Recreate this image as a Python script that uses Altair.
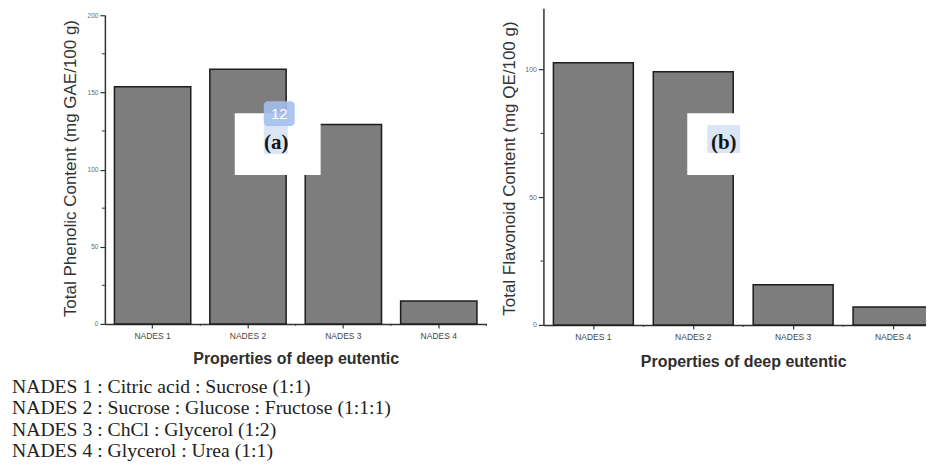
import altair as alt
import pandas as pd

# ---------------- data ----------------
categories = ["NADES 1", "NADES 2", "NADES 3", "NADES 4"]
phenolic = [153.6, 165.0, 129.2, 14.9]
flavonoid = [102.7, 99.1, 15.7, 7.0]
phenolic_ticks = [0, 50, 100, 150, 200]
phenolic_minor = [25, 75, 125, 175]
flavonoid_ticks = [0, 50, 100]
flavonoid_minor = [25, 75]
legend_lines = [
    "NADES 1 : Citric acid : Sucrose (1:1)",
    "NADES 2 : Sucrose : Glucose : Fructose (1:1:1)",
    "NADES 3 : ChCl : Glycerol (1:2)",
    "NADES 4 : Glycerol : Urea (1:1)",
]
y_title_a = "Total Phenolic Content (mg GAE/100 g)"
y_title_b = "Total Flavonoid Content (mg QE/100 g)"
x_title = "Properties of deep eutentic"

BAR_FILL = "#7d7d7d"
AXIS_COL = "#333333"
SANS = "Liberation Sans"
SERIF = "Liberation Serif"


def panel(values, ticks, minor, y_title, domain, rng, width, height,
          title_y, label_size):
    df = pd.DataFrame({"cat": categories, "val": values})
    xs = alt.Scale(domain=categories, paddingInner=0.2, paddingOuter=0.1)
    ys = alt.Scale(domain=domain, range=rng, nice=False, zero=True)
    base = alt.Chart(df)
    bars = base.mark_bar(color=BAR_FILL, stroke="#1c1c1c", strokeWidth=1.5).encode(
        x=alt.X("cat:N", scale=xs, sort=categories, title=x_title,
                axis=alt.Axis(labelAngle=0, labelFont=SANS, labelFontSize=8.5,
                              labelColor="#444", labelPadding=4,
                              tickSize=4, tickColor=AXIS_COL, tickWidth=1.2,
                              domainColor=AXIS_COL, domainWidth=1.5,
                              titleFont=SANS, titleFontSize=16,
                              titleFontWeight="bold", titleColor="#2e2e2e",
                              titleBaseline="middle", titleY=title_y)),
        y=alt.Y("val:Q", scale=ys, title=y_title,
                axis=alt.Axis(values=ticks, labelFont=SANS,
                              labelFontSize=label_size, labelColor="#6a6a6a",
                              labelPadding=2, tickSize=5, tickColor=AXIS_COL,
                              tickWidth=1.2, domainColor=AXIS_COL,
                              domainWidth=1.5, grid=False,
                              titleFont=SANS, titleFontSize=17,
                              titleFontWeight="normal", titleColor="#333",
                              titleBaseline="middle", titleAngle=-90,
                              titleX=-34, titleY=160)),
    )
    minor_df = pd.DataFrame({"m": minor})
    minor_ticks = alt.Chart(minor_df).mark_rule(color=AXIS_COL, strokeWidth=1).encode(
        y=alt.Y("m:Q", scale=ys),
        x=alt.value(-3), x2=alt.value(0),
    )
    step = width / 4.0
    xminor = base.mark_rule(color=AXIS_COL, strokeWidth=1, xOffset=step * 0.1).encode(
        x=alt.X("cat:N", scale=xs, sort=categories, bandPosition=1),
        y=alt.value(height), y2=alt.value(height + 2),
    )
    return bars, minor_ticks, xminor


# ---------------- panel (a) ----------------
W1, H1 = 382, 316
bars_a, minor_a, xminor_a = panel(phenolic, phenolic_ticks, phenolic_minor,
                                  y_title_a, [0, 200], [316, 7], W1, H1, 35, 6.5)

ann = alt.Chart(pd.DataFrame({"k": [0]}))
white_a = ann.mark_rect(color="white").encode(
    x=alt.value(130), x2=alt.value(216), y=alt.value(105), y2=alt.value(167))
hl_a = ann.mark_rect(color="#dae6f6").encode(
    x=alt.value(159), x2=alt.value(183), y=alt.value(116), y2=alt.value(146))
lab_a = ann.mark_text(font=SERIF, fontSize=21, fontWeight="bold", color="#151515",
                      align="center", baseline="alphabetic").encode(
    x=alt.value(171.5), y=alt.value(141), text=alt.value("(a)"))
badge = ann.mark_rect(color="#a3bfec", opacity=0.9, cornerRadius=4).encode(
    x=alt.value(159), x2=alt.value(190), y=alt.value(93), y2=alt.value(118))
badge_txt = ann.mark_text(font=SANS, fontSize=15, color="white",
                          align="center", baseline="middle").encode(
    x=alt.value(174.5), y=alt.value(106), text=alt.value("12"))
legend_txt = ann.mark_text(font=SERIF, fontSize=19.7, color="#1e1e1e",
                           align="left", baseline="alphabetic",
                           lineHeight=21.5).encode(
    x=alt.value(-93), y=alt.value(385), text=alt.value(legend_lines))

left = alt.layer(bars_a, minor_a, xminor_a, white_a, hl_a, lab_a, badge,
                 badge_txt, legend_txt).properties(width=W1, height=H1)

# ---------------- panel (b) ----------------
W2, H2 = 400, 317
bars_b, minor_b, xminor_b = panel(flavonoid, flavonoid_ticks, flavonoid_minor,
                                  y_title_b, [0, 124], [317, 0], W2, H2, 37, 7)
white_b = ann.mark_rect(color="white").encode(
    x=alt.value(144), x2=alt.value(198), y=alt.value(105), y2=alt.value(167))
hl_b = ann.mark_rect(color="#dae6f6").encode(
    x=alt.value(164), x2=alt.value(197), y=alt.value(117), y2=alt.value(145))
lab_b = ann.mark_text(font=SERIF, fontSize=21, fontWeight="bold", color="#151515",
                      align="center", baseline="alphabetic").encode(
    x=alt.value(180.5), y=alt.value(141), text=alt.value("(b)"))

right = alt.layer(bars_b, minor_b, xminor_b, white_b, hl_b, lab_b).properties(
    width=W2, height=H2)

chart = alt.hconcat(left, right, spacing=57, bounds="flush").properties(
    padding={"left": 4, "top": 0, "right": -18, "bottom": 0},
    background="white",
).configure_view(stroke=None)

chart.save("out.html", embed_options={"renderer": "svg", "actions": False})
